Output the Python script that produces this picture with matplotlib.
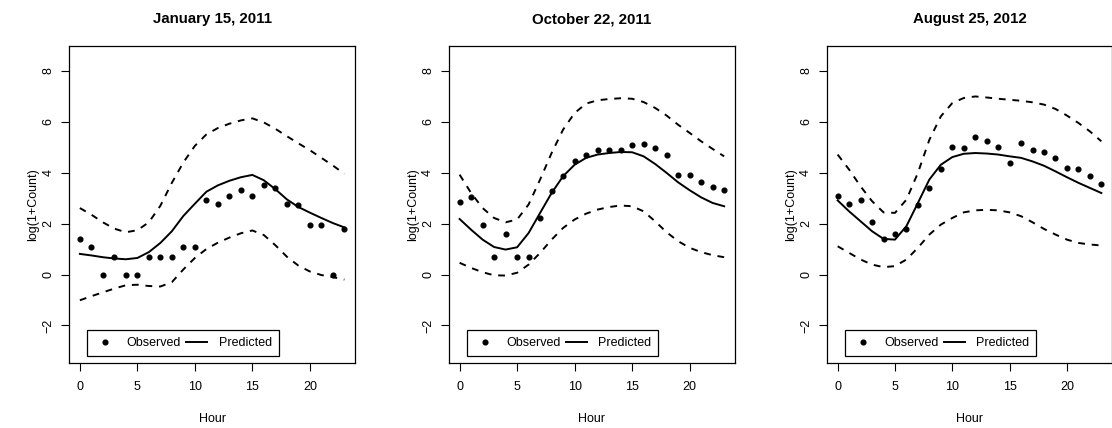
from matplotlib import pyplot as plt
from matplotlib.lines import Line2D

plt.rcParams['font.family'] = ['Liberation Sans', 'DejaVu Sans']

hours = list(range(24))
titles = ["January 15, 2011", "October 22, 2011", "August 25, 2012"]

obs_jan = [1.39, 1.10, 0.00, 0.69, 0.00, 0.00, 0.69, 0.69, 0.69, 1.10, 1.10, 2.94,
           2.77, 3.09, 3.30, 3.09, 3.53, 3.40, 2.77, 2.71, 1.95, 1.95, 0.00, 1.79]
pred_jan = [0.81, 0.75, 0.68, 0.63, 0.60, 0.65, 0.88, 1.24, 1.70, 2.30, 2.78, 3.25,
            3.50, 3.68, 3.82, 3.91, 3.70, 3.35, 2.95, 2.65, 2.43, 2.22, 2.02, 1.85]
upper_jan = [2.61, 2.35, 2.05, 1.80, 1.66, 1.74, 2.05, 2.70, 3.60, 4.40, 5.05, 5.50,
             5.75, 5.92, 6.05, 6.13, 5.97, 5.72, 5.43, 5.15, 4.88, 4.58, 4.28, 3.95]
lower_jan = [-1.01, -0.85, -0.70, -0.55, -0.42, -0.40, -0.45, -0.47, -0.30, 0.20, 0.65, 1.00,
             1.25, 1.45, 1.62, 1.73, 1.55, 1.15, 0.70, 0.35, 0.12, -0.02, -0.10, -0.20]

obs_oct = [2.83, 3.04, 1.95, 0.69, 1.61, 0.69, 0.69, 2.20, 3.29, 3.87, 4.47, 4.69,
           4.89, 4.90, 4.89, 5.07, 5.14, 4.97, 4.71, 3.89, 3.89, 3.64, 3.43, 3.33]
pred_oct = [2.18, 1.76, 1.37, 1.08, 0.98, 1.07, 1.63, 2.42, 3.20, 3.86, 4.31, 4.58,
            4.71, 4.77, 4.81, 4.80, 4.64, 4.34, 3.99, 3.62, 3.31, 3.03, 2.81, 2.68]
upper_oct = [3.92, 3.20, 2.61, 2.22, 2.05, 2.16, 2.75, 3.73, 4.77, 5.69, 6.34, 6.71,
             6.84, 6.89, 6.92, 6.90, 6.77, 6.54, 6.24, 5.88, 5.56, 5.23, 4.93, 4.64]
lower_oct = [0.46, 0.26, 0.09, -0.03, -0.04, 0.07, 0.39, 0.85, 1.37, 1.83, 2.16, 2.39,
             2.55, 2.65, 2.71, 2.68, 2.48, 2.09, 1.66, 1.31, 1.05, 0.88, 0.76, 0.68]

obs_aug = [3.09, 2.77, 2.94, 2.08, 1.39, 1.61, 1.79, 2.71, 3.40, 4.13, 4.99, 4.97,
           5.39, 5.23, 5.00, 4.38, 5.16, 4.88, 4.80, 4.58, 4.18, 4.13, 3.86, 3.56]
pred_aug = [2.91, 2.48, 2.09, 1.70, 1.40, 1.37, 1.90, 2.81, 3.73, 4.31, 4.61, 4.74,
            4.77, 4.75, 4.71, 4.64, 4.58, 4.44, 4.27, 4.05, 3.82, 3.60, 3.40, 3.20]
upper_aug = [4.71, 4.12, 3.46, 2.88, 2.44, 2.42, 2.94, 3.99, 5.29, 6.21, 6.73, 6.93,
             6.99, 6.95, 6.90, 6.86, 6.82, 6.76, 6.67, 6.50, 6.24, 5.95, 5.62, 5.23]
lower_aug = [1.11, 0.85, 0.59, 0.39, 0.29, 0.33, 0.59, 1.05, 1.57, 1.96, 2.22, 2.44,
             2.52, 2.54, 2.52, 2.44, 2.29, 2.05, 1.79, 1.57, 1.37, 1.24, 1.18, 1.14]

panels = [
    (obs_jan, pred_jan, upper_jan, lower_jan),
    (obs_oct, pred_oct, upper_oct, lower_oct),
    (obs_aug, pred_aug, upper_aug, lower_aug),
]

fig = plt.figure(figsize=(11.12, 4.28), dpi=100)
lefts = [0.0623, 0.4038, 0.7438]
widths = [0.2569, 0.2569, 0.2561]

for i, (obs, pred, upper, lower) in enumerate(panels):
    ax = fig.add_axes([lefts[i], 0.1526, widths[i], 0.7393])
    ax.plot(hours, upper, color='black', lw=1.4, ls=(0, (3.5, 3.5)))
    ax.plot(hours, lower, color='black', lw=1.4, ls=(0, (3.5, 3.5)))
    ax.plot(hours, pred, color='black', lw=1.4)
    ax.plot(hours, obs, 'o', color='black', ms=3.4)

    ax.set_xlim(-0.92, 23.92)
    ax.set_ylim(-3.46, 8.96)
    ax.set_xticks([0, 5, 10, 15, 20])
    ax.set_yticks([-2, 0, 2, 4, 6, 8])
    ax.tick_params(direction='out', length=5.8, width=0.8, labelsize=9)
    ax.tick_params(axis='x', pad=7.5)
    ax.tick_params(axis='y', pad=5)
    for lab in ax.get_yticklabels():
        lab.set_rotation(90)
        lab.set_va('center')
    for sp in ax.spines.values():
        sp.set_linewidth(0.9)

    ax.set_title(titles[i], fontsize=10.8, fontweight='bold', pad=16.5)
    ax.set_xlabel("Hour", fontsize=9, labelpad=14.5)
    ax.set_ylabel("log(1+Count)", fontsize=9, labelpad=2)

    handles = [Line2D([], [], ls='none', marker='o', color='black', ms=3.4),
               Line2D([], [], color='black', lw=1.4)]
    leg = ax.legend(handles, ["Observed", "Predicted"], ncol=2, loc='lower left',
                    bbox_to_anchor=(0.063, 0.021), borderaxespad=0, fontsize=9,
                    handlelength=1.7, handletextpad=0.9, columnspacing=0.4,
                    borderpad=0.55, fancybox=False, framealpha=1)
    leg.get_frame().set_edgecolor('black')
    leg.get_frame().set_linewidth(0.9)

plt.savefig("out.png", dpi=100)
